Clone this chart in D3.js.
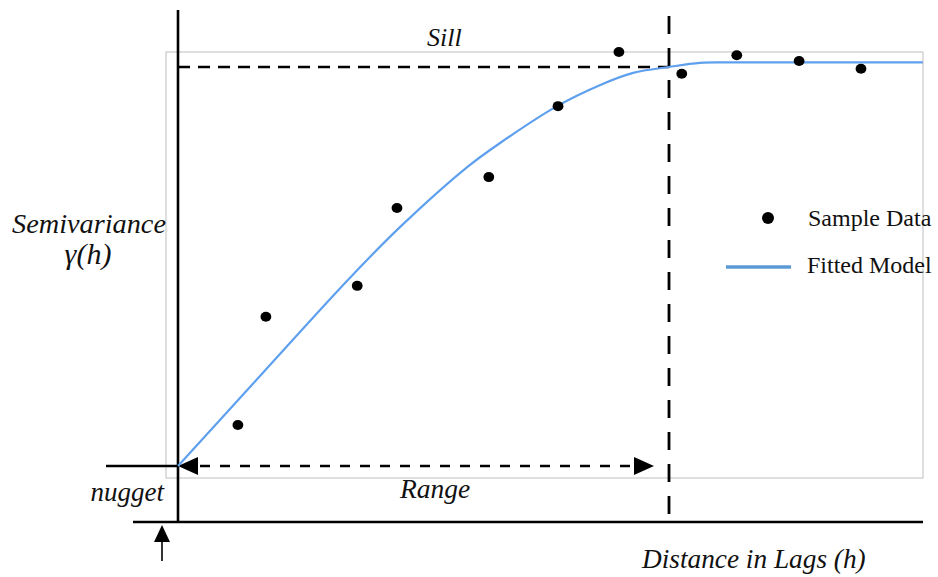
<!DOCTYPE html>
<html>
<head>
<meta charset="utf-8">
<script src="https://cdn.jsdelivr.net/npm/d3@7"></script>
<style>
  html, body { margin: 0; padding: 0; background: #fff; }
  svg { display: block; }
  .it { font-family: "Liberation Serif", "Times New Roman", serif; font-style: italic; fill: #111; }
  .rm { font-family: "Liberation Serif", "Times New Roman", serif; fill: #111; }
</style>
</head>
<body>
<script>
// Empirical semivariogram: lag distance h and semivariance γ(h)
const sampleLag   = [1.22, 1.79, 3.65, 4.46, 6.33, 7.74, 8.98, 10.26, 11.38, 12.65, 13.91];
const sampleGamma = [0.213, 0.451, 0.519, 0.690, 0.758, 0.914, 1.033, 0.985, 1.026, 1.013, 0.996];

// Fitted model curve, sampled along the lag axis
const fitLag   = [0, 1.67, 3.46, 4.52, 5.89, 6.56, 7.72, 8.59, 9.27, 10, 10.63, 11.24, 15.17];
const fitGamma = [0.123, 0.321, 0.532, 0.648, 0.780, 0.833, 0.914, 0.960, 0.987, 1.000, 1.009, 1.010, 1.010];

// Model parameters
const nugget = 0.123;
const sill = 1.0;
const range = 10;

// Labels
const labels = {
  sill: "Sill",
  range: "Range",
  nugget: "nugget",
  yTitle: "Semivariance",
  ySymbol: "γ(h)",
  xTitle: "Distance in Lags (h)"
};
const legendItems = ["Sample Data", "Fitted Model"];

const W = 938, H = 577;
const svg = d3.select("body").append("svg").attr("width", W).attr("height", H);

// Scales: h = 0 at the vertical axis, γ = 0 at the horizontal axis
const x = d3.scaleLinear().domain([0, range]).range([178, 669]);
const y = d3.scaleLinear().domain([0, sill]).range([522, 67]);

// Plot frame
const box = { left: 166, right: 923, top: 52, bottom: 478 };
svg.append("rect")
  .attr("x", box.left).attr("y", box.top)
  .attr("width", box.right - box.left).attr("height", box.bottom - box.top)
  .attr("fill", "none").attr("stroke", "#c9c9c9").attr("stroke-width", 1.2);

const g = svg.append("g");

// Axes
g.append("line")
  .attr("x1", x(0)).attr("x2", x(0)).attr("y1", 10).attr("y2", y(0))
  .attr("stroke", "#000").attr("stroke-width", 2.6);
g.append("line")
  .attr("x1", 133).attr("x2", box.right).attr("y1", y(0)).attr("y2", y(0))
  .attr("stroke", "#000").attr("stroke-width", 2.6);

// Nugget level marker
g.append("line")
  .attr("x1", 106).attr("x2", x(0)).attr("y1", y(nugget)).attr("y2", y(nugget))
  .attr("stroke", "#000").attr("stroke-width", 2.6);

// Sill (dashed horizontal)
g.append("line")
  .attr("x1", x(0)).attr("x2", x(range)).attr("y1", y(sill)).attr("y2", y(sill))
  .attr("stroke", "#000").attr("stroke-width", 2.6).attr("stroke-dasharray", "12,8");

// Range (dashed vertical)
g.append("line")
  .attr("x1", x(range)).attr("x2", x(range)).attr("y1", 16).attr("y2", y(0))
  .attr("stroke", "#000").attr("stroke-width", 2.8).attr("stroke-dasharray", "18,14");

// Range double arrow
const ry = y(nugget);
const tipL = x(0), tipR = 654;
g.append("line")
  .attr("x1", tipL + 22).attr("x2", tipR - 20).attr("y1", ry).attr("y2", ry)
  .attr("stroke", "#000").attr("stroke-width", 2.6).attr("stroke-dasharray", "10,10");
g.append("path")
  .attr("d", `M${tipL},${ry} L${tipL + 20},${ry - 9} L${tipL + 20},${ry + 9} Z`)
  .attr("fill", "#000");
g.append("path")
  .attr("d", `M${tipR},${ry} L${tipR - 20},${ry - 9} L${tipR - 20},${ry + 9} Z`)
  .attr("fill", "#000");

// Nugget pointer arrow below the axis
const ax = 162;
g.append("line")
  .attr("x1", ax).attr("x2", ax).attr("y1", 540).attr("y2", 561)
  .attr("stroke", "#000").attr("stroke-width", 1.6);
g.append("path")
  .attr("d", `M${ax},525 L${ax - 8},542 L${ax + 8},542 Z`)
  .attr("fill", "#000");

// Fitted model curve
const fitData = fitLag.map((h, i) => ({ h, v: fitGamma[i] }));
g.append("path")
  .datum(fitData)
  .attr("d", d3.line().x(d => x(d.h)).y(d => y(d.v)).curve(d3.curveCatmullRom.alpha(0.5)))
  .attr("fill", "none").attr("stroke", "#5fa0ee").attr("stroke-width", 2.2);

// Sample points
const sampleData = sampleLag.map((h, i) => ({ h, v: sampleGamma[i] }));
g.selectAll("ellipse.pt")
  .data(sampleData)
  .join("ellipse")
  .attr("class", "pt")
  .attr("cx", d => x(d.h)).attr("cy", d => y(d.v))
  .attr("rx", 5.4).attr("ry", 5)
  .attr("fill", "#000");

// Text labels
svg.append("text").attr("class", "it").attr("x", 427).attr("y", 46)
  .attr("font-size", 26).text(labels.sill);
svg.append("text").attr("class", "it").attr("x", 89).attr("y", 233)
  .attr("text-anchor", "middle").attr("font-size", 28.3).text(labels.yTitle);
svg.append("text").attr("class", "it").attr("x", 88).attr("y", 264)
  .attr("text-anchor", "middle").attr("font-size", 30).text(labels.ySymbol);
svg.append("text").attr("class", "it").attr("x", 164).attr("y", 501)
  .attr("text-anchor", "end").attr("font-size", 27).text(labels.nugget);
svg.append("text").attr("class", "it").attr("x", 400).attr("y", 498)
  .attr("font-size", 27.5).text(labels.range);
svg.append("text").attr("class", "it").attr("x", 642).attr("y", 568)
  .attr("font-size", 27.3).text(labels.xTitle);

// Legend
svg.append("circle").attr("cx", 768).attr("cy", 218).attr("r", 6).attr("fill", "#000");
svg.append("line").attr("x1", 726).attr("x2", 791).attr("y1", 267).attr("y2", 267)
  .attr("stroke", "#5b9bd5").attr("stroke-width", 3.6);
svg.append("text").attr("class", "rm").attr("x", 808).attr("y", 226)
  .attr("font-size", 24).text(legendItems[0]);
svg.append("text").attr("class", "rm").attr("x", 807).attr("y", 273)
  .attr("font-size", 24).text(legendItems[1]);
</script>
</body>
</html>
